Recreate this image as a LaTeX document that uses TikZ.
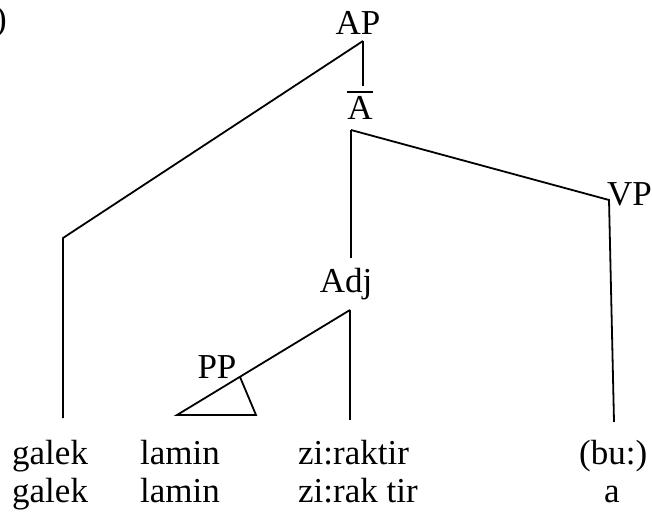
\documentclass[tikz,border=0pt]{standalone}
\usepackage{fontspec}
\setmainfont{Liberation Serif}
\usetikzlibrary{positioning}

\begin{document}
\begin{tikzpicture}[x=1pt,y=-1pt,
  every node/.style={font=\fontsize{35}{40}\selectfont,inner sep=0pt},
  branch/.style={line width=1.8pt}]
  \useasboundingbox (0,0) rectangle (652,518);
  % labels
  \node[anchor=base east] (num) at (7,31) {)};
  \node[anchor=base] (ap) at (358,35) {AP};
  \node[anchor=base] (abar) at (360,120) {A};
  \node[anchor=base] (adj) at (346,292) {Adj};
  \node[anchor=base] (pp) at (217,378) {PP};
  \node[anchor=base east] (vp) at (652,206) {VP};
  % words
  \node[anchor=base west] (w1) at (12,464) {galek};
  \node[anchor=base west] (w2) at (140,464) {lamin};
  \node[anchor=base west] (w3) at (298,464) {zi:raktir};
  \node[anchor=base west] (w4) at (579,464) {(bu:)};
  \node[anchor=base west] (g1) at (12,502) {galek};
  \node[anchor=base west] (g2) at (140,502) {lamin};
  \node[anchor=base west] (g3) at (298,502) {zi:rak tir};
  \node[anchor=base] (g4) at (612,502) {a};
  % joints
  \coordinate (ap-j) at (363,41);
  \coordinate (ap-e) at (363,86);
  \coordinate (galek-j) at (63,238);
  \coordinate (galek-e) at (63,418);
  \coordinate (abar-j) at (351,130);
  \coordinate (vp-j) at (609,200);
  \coordinate (bu-e) at (614,422);
  \coordinate (adj-t) at (351,258);
  \coordinate (adj-j) at (350,310);
  \coordinate (zi-e) at (350,420);
  \coordinate (pp-l) at (177,415);
  \coordinate (pp-r) at (256,415);
  \coordinate (pp-a) at (240,377);
  % bar over A
  \draw[branch] ([yshift=5pt]abar.north west) -- ([yshift=5pt]abar.north east);
  % branches
  \draw[branch] (ap-j) -- (ap-e);
  \draw[branch] (ap-j) -- (galek-j) -- (galek-e);
  \draw[branch] (abar-j) -- (adj-t);
  \draw[branch] (abar-j) -- (vp-j) -- (bu-e);
  \draw[branch] (adj-j) -- (zi-e);
  \draw[branch] (adj-j) -- (pp-l) -- (pp-r) -- (pp-a);
\end{tikzpicture}
\end{document}
